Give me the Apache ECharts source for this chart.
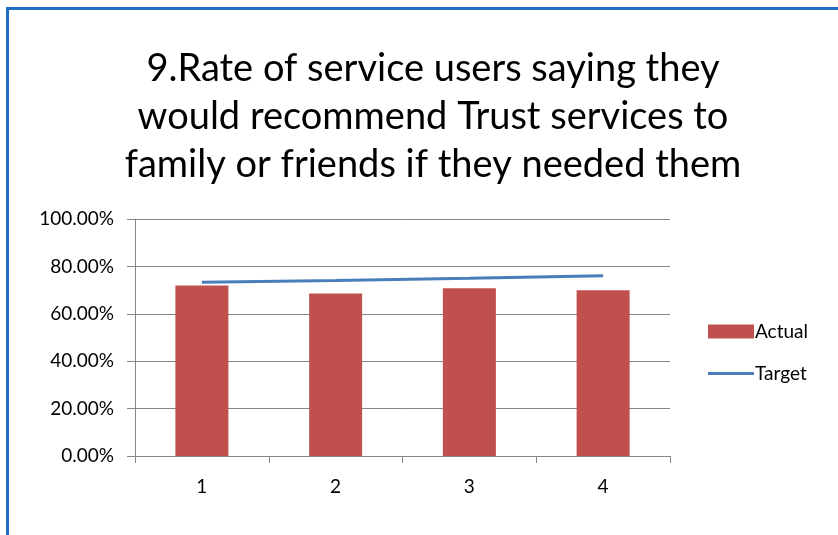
<!DOCTYPE html>
<html>
<head>
<meta charset="utf-8">
<script src="https://cdn.jsdelivr.net/npm/echarts@6/dist/echarts.min.js"></script>
<style>
  html, body { margin: 0; padding: 0; background: #ffffff; }
  #chart { width: 838px; height: 535px; }
</style>
</head>
<body>
<div id="chart"></div>
<script>
// Quarterly friends-and-family recommendation rate
const categories = ['1', '2', '3', '4'];
const actualValues = [71.9, 68.6, 70.8, 69.9];
const targetValues = [73.3, 74.1, 75.0, 76.1];
const yTicks = [0, 20, 40, 60, 80, 100];

const chartTitle = '9.Rate of service users saying they\nwould recommend Trust services to\nfamily or friends if they needed them';
const FONT = 'Lato, "Liberation Sans", sans-serif';

const chart = echarts.init(document.getElementById('chart'), null, { renderer: 'canvas' });

chart.setOption({
  backgroundColor: '#ffffff',
  animation: false,
  graphic: [{
    type: 'rect',
    left: 5,
    top: 6,
    shape: { width: 900, height: 600 },
    style: { fill: 'none', stroke: '#1f6fc6', lineWidth: 3 },
    silent: true,
    z: 100
  }],
  title: {
    text: chartTitle,
    left: 428,
    textAlign: 'center',
    top: 40,
    textStyle: {
      fontFamily: FONT,
      fontSize: 38,
      fontWeight: 'normal',
      lineHeight: 48,
      color: '#000000'
    }
  },
  legend: {
    orient: 'vertical',
    left: 703,
    top: 317,
    itemWidth: 46,
    itemHeight: 14,
    itemGap: 23,
    symbolKeepAspect: true,
    textStyle: { fontFamily: FONT, fontSize: 19, color: '#000000', padding: [0, 0, 0, -4] },
    data: [
      { name: 'Actual', icon: 'rect' },
      { name: 'Target', icon: 'path://M0,0 H46 V3 H0 Z' }
    ]
  },
  grid: {
    left: 135,
    right: 168,
    top: 219,
    bottom: 79,
    containLabel: false
  },
  xAxis: {
    type: 'category',
    data: categories,
    boundaryGap: true,
    axisLine: { lineStyle: { color: '#868686', width: 1 } },
    axisTick: { show: true, length: 7, alignWithLabel: false, lineStyle: { color: '#868686' } },
    axisLabel: { fontFamily: FONT, fontSize: 19, color: '#000000', margin: 21 }
  },
  yAxis: {
    type: 'value',
    min: yTicks[0],
    max: yTicks[yTicks.length - 1],
    interval: 20,
    axisLine: { show: true, lineStyle: { color: '#868686', width: 1 } },
    axisTick: { show: true, inside: false, length: 8, lineStyle: { color: '#868686' } },
    splitLine: { show: true, lineStyle: { color: '#868686', width: 1 } },
    axisLabel: {
      fontFamily: FONT,
      fontSize: 19,
      color: '#000000',
      margin: 21,
      formatter: v => v.toFixed(2) + '%'
    }
  },
  series: [
    {
      name: 'Actual',
      type: 'bar',
      data: actualValues,
      barWidth: 53,
      itemStyle: { color: '#c0504d' }
    },
    {
      name: 'Target',
      type: 'line',
      data: targetValues,
      symbol: 'none',
      lineStyle: { color: '#4a7ebb', width: 3 },
      itemStyle: { color: '#4a7ebb' },
      z: 3
    }
  ]
});
</script>
</body>
</html>
